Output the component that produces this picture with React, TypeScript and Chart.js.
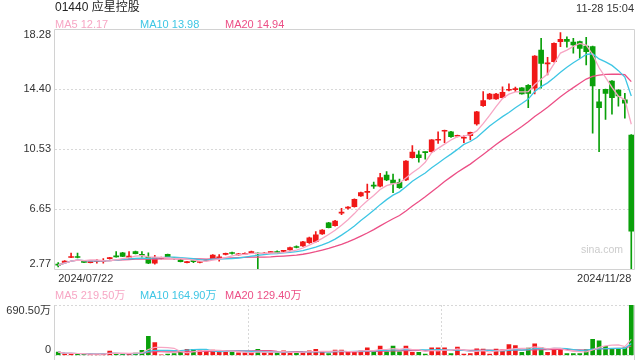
import React, { useEffect, useRef } from 'react';
import { Chart, registerables } from 'chart.js';

Chart.register(...registerables);

// ---- data ----
const dates = [
  '2024/07/22','2024/07/23','2024/07/24','2024/07/25','2024/07/26','2024/07/29','2024/07/30','2024/07/31',
  '2024/08/01','2024/08/02','2024/08/05','2024/08/06','2024/08/07','2024/08/08','2024/08/09','2024/08/12',
  '2024/08/13','2024/08/14','2024/08/15','2024/08/16','2024/08/19','2024/08/20','2024/08/21','2024/08/22',
  '2024/08/23','2024/08/26','2024/08/27','2024/08/28','2024/08/29','2024/08/30',
  '2024/09/02','2024/09/03','2024/09/04','2024/09/05','2024/09/09','2024/09/10','2024/09/11','2024/09/12',
  '2024/09/13','2024/09/16','2024/09/17','2024/09/19','2024/09/20','2024/09/23','2024/09/24','2024/09/25',
  '2024/09/26','2024/09/27','2024/09/30',
  '2024/10/02','2024/10/03','2024/10/04','2024/10/07','2024/10/08','2024/10/09','2024/10/10','2024/10/14',
  '2024/10/15','2024/10/16','2024/10/17','2024/10/18','2024/10/21','2024/10/22','2024/10/23','2024/10/24',
  '2024/10/25','2024/10/28','2024/10/29','2024/10/30','2024/10/31',
  '2024/11/01','2024/11/04','2024/11/05','2024/11/06','2024/11/07','2024/11/08','2024/11/11','2024/11/12',
  '2024/11/13','2024/11/14','2024/11/15','2024/11/18','2024/11/19','2024/11/20','2024/11/21','2024/11/22',
  '2024/11/25','2024/11/26','2024/11/27','2024/11/28',
];

const opens = [
  3.06, 3.22, 3.53, 3.56, 3.28, 3.20, 3.28, 3.28, 3.46, 3.60,
  3.84, 3.54, 3.91, 3.71, 3.55, 3.17, 3.46, 3.74, 3.47, 3.37,
  3.20, 3.29, 3.21, 3.34, 3.42, 3.45, 3.73, 3.82, 3.70, 3.74,
  3.85, 3.82, 3.76, 3.85, 3.92, 3.93, 4.02, 4.24, 4.28, 4.49,
  4.56, 5.06, 5.78, 5.59, 6.40, 6.72, 6.82, 7.51, 7.74, 8.20,
  8.15, 8.86, 8.54, 8.39, 8.54, 9.98, 10.16, 10.35, 10.37, 11.11,
  11.69, 11.66, 11.37, 11.24, 11.40, 12.16, 13.34, 13.78, 13.78, 13.86,
  14.34, 14.38, 14.50, 14.66, 14.47, 16.94, 16.05, 16.19, 17.48, 17.63,
  17.46, 17.48, 17.20, 17.16, 13.60, 14.40, 14.94, 14.36, 13.72, 11.45,
];
const highs = [
  3.20, 3.33, 3.82, 3.82, 3.30, 3.26, 3.41, 3.47, 3.55, 3.92,
  3.86, 3.91, 3.95, 3.91, 3.84, 3.68, 3.56, 3.76, 3.50, 3.40,
  3.28, 3.33, 3.28, 3.40, 3.72, 3.72, 3.82, 3.88, 3.80, 3.83,
  3.95, 3.84, 3.85, 3.92, 3.96, 4.00, 4.20, 4.28, 4.58, 4.85,
  5.20, 5.33, 5.80, 5.93, 6.71, 6.82, 7.33, 7.76, 8.28, 8.41,
  8.97, 9.08, 8.93, 8.60, 9.80, 10.76, 10.43, 10.36, 11.15, 11.66,
  11.76, 11.68, 11.45, 11.40, 11.64, 12.98, 14.25, 14.14, 14.14, 14.57,
  14.75, 14.55, 14.52, 14.70, 16.58, 17.70, 16.47, 17.40, 18.06, 17.80,
  17.70, 17.52, 17.76, 17.20, 14.40, 14.42, 14.96, 14.38, 14.14, 11.47,
];
const lows = [
  2.92, 3.20, 3.52, 3.50, 3.20, 3.18, 3.16, 3.16, 3.42, 3.55,
  3.58, 3.48, 3.76, 3.55, 3.14, 3.10, 3.44, 3.57, 3.42, 3.25,
  3.18, 3.20, 3.19, 3.30, 3.40, 3.30, 3.70, 3.74, 3.68, 3.72,
  3.80, 2.77, 3.72, 3.82, 3.84, 3.90, 4.00, 4.15, 4.25, 4.45,
  4.52, 5.03, 5.44, 5.56, 6.30, 6.66, 6.78, 7.48, 7.33, 8.00,
  8.10, 8.50, 7.72, 8.00, 8.50, 9.95, 9.69, 9.88, 10.30, 10.91,
  10.95, 11.30, 11.32, 10.95, 11.13, 12.08, 13.30, 13.75, 13.75, 13.84,
  14.30, 14.25, 14.08, 13.22, 14.10, 14.47, 15.33, 16.15, 17.16, 17.12,
  16.73, 16.41, 15.97, 11.56, 10.37, 12.46, 12.79, 13.32, 12.53, 2.77,
];
const closes = [
  3.04, 3.30, 3.56, 3.53, 3.22, 3.24, 3.31, 3.31, 3.49, 3.57,
  3.61, 3.63, 3.78, 3.68, 3.16, 3.52, 3.55, 3.59, 3.45, 3.26,
  3.26, 3.27, 3.26, 3.36, 3.69, 3.58, 3.77, 3.79, 3.77, 3.80,
  3.88, 3.76, 3.80, 3.87, 3.85, 3.98, 4.17, 4.18, 4.55, 4.81,
  4.99, 5.30, 5.46, 5.89, 6.45, 6.76, 7.29, 7.72, 7.78, 8.15,
  8.69, 8.54, 8.33, 8.04, 9.77, 10.35, 9.98, 10.31, 11.13, 11.15,
  11.72, 11.34, 11.40, 11.27, 11.62, 12.95, 13.67, 14.10, 14.10, 14.21,
  14.38, 14.41, 14.10, 14.14, 16.55, 16.08, 16.10, 17.37, 17.63, 17.50,
  17.27, 17.05, 16.83, 14.62, 13.21, 14.14, 13.86, 13.97, 13.50, 5.24,
];
// volume in 万 shares
const volumes = [
  46, 18, 27, 18, 18, 18, 27, 18, 60, 27,
  27, 18, 33, 70, 262, 175, 10, 18, 27, 46,
  83, 83, 64, 64, 74, 64, 46, 46, 37, 37,
  37, 83, 37, 37, 37, 64, 37, 37, 51, 64,
  83, 51, 27, 73, 73, 51, 51, 63, 104, 63,
  128, 51, 128, 51, 128, 45, 45, 18, 104, 104,
  104, 27, 114, 18, 27, 91, 87, 18, 87, 73,
  150, 136, 45, 100, 158, 106, 45, 90, 90, 27,
  25, 27, 80, 220, 200, 125, 90, 88, 104, 690.5,
];

const priceTicks = [2.77, 6.65, 10.53, 14.40, 18.28];
const volumeTicks = [0, 690.5];
const maPeriods = [5, 10, 20];
const priceMA = [12.17, 13.98, 14.94];
const volumeMA = [219.5, 164.9, 129.4];

// ---- styles ----
const FONT = '"Liberation Sans", Arial, "Noto Sans CJK SC", sans-serif';
const RED = '#f01818';
const GREEN = '#0aa00a';
const MA_COLORS = ['#f7a6c4', '#3ec6e4', '#ec4f86'];
const FRAME = '#d2d2d2';
const GRID = '#d8d8d8';

function movingAverage(src: number[], n: number): number[] {
  return src.map((_, i) => {
    const s = Math.max(0, i - n + 1);
    let sum = 0;
    for (let k = s; k <= i; k++) sum += src[k];
    return sum / (i - s + 1);
  });
}

const candleColors = closes.map((c, i) => (c >= opens[i] ? RED : GREEN));

function framePlugin(sides: { top: boolean; bottom: boolean }) {
  return {
    id: 'frame',
    afterDraw(chart: any) {
      const { ctx, chartArea: a } = chart;
      const l = Math.round(a.left) - 0.5;
      const r = Math.floor(a.right) + 0.5;
      const t = Math.floor(a.top) + 0.5;
      const b = Math.floor(a.bottom) + 0.5;
      ctx.save();
      ctx.strokeStyle = FRAME;
      ctx.lineWidth = 1;
      ctx.setLineDash([]);
      ctx.beginPath();
      ctx.moveTo(l, sides.top ? t : a.top);
      ctx.lineTo(l, sides.bottom ? b : a.bottom + 10);
      ctx.moveTo(r, sides.top ? t : a.top);
      ctx.lineTo(r, sides.bottom ? b : a.bottom + 10);
      if (sides.top) {
        ctx.moveTo(l, t);
        ctx.lineTo(r, t);
      }
      if (sides.bottom) {
        ctx.moveTo(l, b);
        ctx.lineTo(r, b);
      }
      ctx.stroke();
      ctx.restore();
    },
  };
}

const fixYAxis = (s: any) => {
  s.width = 55;
  s.paddingTop = 0;
  s.paddingBottom = 0;
};

export default function App() {
  const mainRef = useRef<HTMLCanvasElement>(null);
  const volRef = useRef<HTMLCanvasElement>(null);

  useEffect(() => {
    if (!mainRef.current || !volRef.current) return;
    const last = dates.length - 1;

    const maLines = maPeriods.map((n, k) => ({
      type: 'line' as const,
      data: movingAverage(closes, n),
      borderColor: MA_COLORS[k],
      borderWidth: 1.3,
      pointRadius: 0,
      tension: 0,
      order: 0,
    }));

    const main = new Chart(mainRef.current, {
      type: 'bar',
      data: {
        labels: dates,
        datasets: [
          ...maLines,
          {
            type: 'bar',
            data: opens.map((o, i) => [o, closes[i]]),
            backgroundColor: candleColors,
            barThickness: 5,
            minBarLength: 1,
            grouped: false,
            order: 1,
          } as any,
          {
            type: 'bar',
            data: lows.map((l, i) => [l, highs[i]]),
            backgroundColor: candleColors,
            barThickness: 1,
            grouped: false,
            order: 2,
          } as any,
        ],
      },
      options: {
        animation: false,
        responsive: false,
        maintainAspectRatio: false,
        events: [],
        layout: { padding: { top: 29.3, right: 5.5, left: 0, bottom: 0 } },
        plugins: { legend: { display: false }, tooltip: { enabled: false } },
        scales: {
          x: {
            offset: true,
            grid: { display: false, drawTicks: false },
            border: { display: false },
            ticks: {
              autoSkip: false,
              maxRotation: 0,
              minRotation: 0,
              align: 'inner',
              padding: 3,
              color: '#333',
              font: { size: 11, family: FONT },
              callback: (_v: any, i: number) => (i === 0 || i === last ? dates[i] : ''),
            },
            afterFit: (s: any) => {
              s.height = 290 - 269.3;
            },
          },
          y: {
            min: priceTicks[0],
            max: priceTicks[priceTicks.length - 1],
            afterBuildTicks: (s: any) => {
              s.ticks = priceTicks.map((v) => ({ value: v }));
            },
            grid: { color: GRID, lineWidth: 1, drawTicks: false },
            border: { display: false, dash: [2, 2] },
            ticks: {
              padding: 4,
              color: '#333',
              font: { size: 11, family: FONT, lineHeight: 1 },
              callback: (v: any, i: number) => {
                const t = Number(v).toFixed(2);
                if (i === 0) return [t, ''];
                if (i === priceTicks.length - 1) return ['', t];
                return t;
              },
            },
            afterFit: fixYAxis,
          },
        },
      },
      plugins: [framePlugin({ top: true, bottom: true })],
    } as any);

    const volMaLines = maPeriods.map((n, k) => ({
      type: 'line' as const,
      data: movingAverage(volumes, n),
      borderColor: MA_COLORS[k],
      borderWidth: 1.2,
      pointRadius: 0,
      tension: 0,
      order: 0,
    }));

    const vol = new Chart(volRef.current, {
      type: 'bar',
      data: {
        labels: dates,
        datasets: [
          ...volMaLines,
          {
            type: 'bar',
            data: volumes,
            backgroundColor: candleColors,
            barThickness: 4,
            order: 1,
          } as any,
        ],
      },
      options: {
        animation: false,
        responsive: false,
        maintainAspectRatio: false,
        events: [],
        layout: { padding: { top: 15, right: 5.5, left: 0, bottom: 4.5 } },
        plugins: { legend: { display: false }, tooltip: { enabled: false } },
        scales: {
          x: {
            offset: true,
            grid: {
              offset: true,
              drawTicks: false,
              color: (ctx: any) => (ctx.index === 30 || ctx.index === 60 ? GRID : 'rgba(0,0,0,0)'),
            },
            border: { display: false, dash: [2, 2] },
            ticks: { display: false },
            afterFit: (s: any) => {
              s.height = 0;
            },
          },
          y: {
            min: volumeTicks[0],
            max: volumeTicks[1],
            afterBuildTicks: (s: any) => {
              s.ticks = volumeTicks.map((v) => ({ value: v }));
            },
            grid: { color: GRID, lineWidth: 1, drawTicks: false },
            border: { display: false, dash: [2, 2] },
            ticks: {
              padding: 4,
              color: '#333',
              font: { size: 11, family: FONT, lineHeight: 1 },
              callback: (v: any, i: number) => {
                if (i === 0) return [String(v), ''];
                return ['', Number(v).toFixed(2) + '万'];
              },
            },
            afterFit: fixYAxis,
          },
        },
      },
      plugins: [framePlugin({ top: false, bottom: false })],
    } as any);

    return () => {
      main.destroy();
      vol.destroy();
    };
  }, []);

  const legendRow = (top: number, values: number[], suffix: string) =>
    maPeriods.map((n, k) => (
      <span
        key={n}
        style={{
          position: 'absolute',
          left: [55, 140, 225][k],
          top,
          fontSize: 11,
          lineHeight: '14px',
          color: MA_COLORS[k],
          whiteSpace: 'nowrap',
        }}
      >
        {`MA${n} ${values[k].toFixed(2)}${suffix}`}
      </span>
    ));

  return (
    <div
      style={{
        position: 'absolute',
        left: 0,
        top: 0,
        width: 640,
        height: 360,
        background: '#fff',
        fontFamily: FONT,
        overflow: 'hidden',
      }}
    >
      <canvas ref={mainRef} width={640} height={290} style={{ position: 'absolute', left: 0, top: 0 }} />
      <canvas ref={volRef} width={640} height={70} style={{ position: 'absolute', left: 0, top: 290 }} />
      <div style={{ position: 'absolute', left: 55, top: 0, fontSize: 12, lineHeight: '14px', color: '#222' }}>
        01440 应星控股
      </div>
      <div style={{ position: 'absolute', right: 6, top: 1, fontSize: 11, lineHeight: '14px', color: '#333' }}>
        11-28 15:04
      </div>
      {legendRow(17, priceMA, '')}
      {legendRow(288, volumeMA, '万')}
      <div style={{ position: 'absolute', right: 17, top: 242, fontSize: 10.5, lineHeight: '14px', color: '#cccccc' }}>
        sina.com
      </div>
    </div>
  );
}
